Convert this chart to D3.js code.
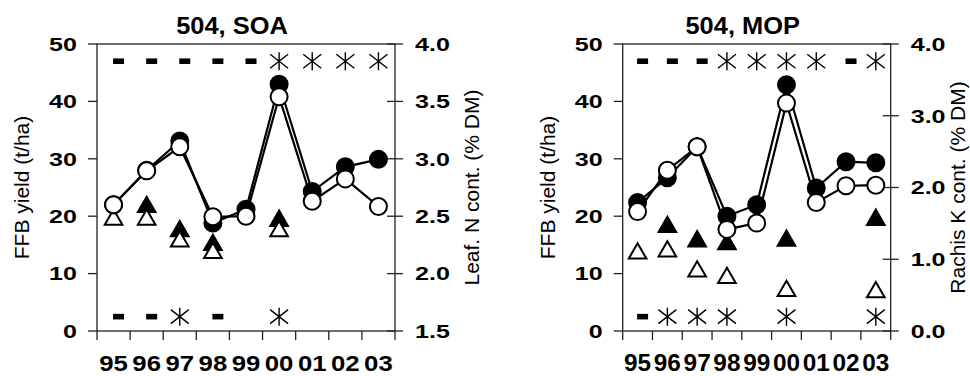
<!DOCTYPE html>
<html>
<head>
<meta charset="utf-8">
<script src="https://cdn.jsdelivr.net/npm/d3@7/dist/d3.min.js"></script>
<style>
  body { margin: 0; background: #fff; }
  svg { display: block; }
  text { font-family: "Liberation Sans", Arial, sans-serif; fill: #000; }
</style>
</head>
<body>
<svg id="chart" width="970" height="376"></svg>
<script>
// years on the x axis
const years = ["95", "96", "97", "98", "99", "00", "01", "02", "03"];

// 504, SOA : FFB yield (t/ha), left axis
const soaYieldFilled = [22, 28, 33.1, 18.8, 21.2, 43.0, 24.3, 28.6, 29.9];
const soaYieldOpen   = [22, 27.9, 32.1, 19.9, 20.0, 40.8, 22.6, 26.5, 21.7];
// leaf N content (% DM), right axis
const soaNFilled = [null, 2.58, 2.37, 2.25, null, 2.46, null, null, null];
const soaNOpen   = [2.47, 2.47, 2.28, 2.18, null, 2.37, null, null, null];
// significance rows ("-" = ns, "*" = significant)
const soaSigTop    = ["-", "-", "-", "-", "-", "*", "*", "*", "*"];
const soaSigBottom = ["-", "-", "*", "-", "", "*", "", "", ""];

// 504, MOP : FFB yield (t/ha), left axis
const mopYieldFilled = [22.4, 26.7, 32.1, 20.0, 22.0, 42.9, 24.9, 29.5, 29.3];
const mopYieldOpen   = [20.8, 28.0, 32.1, 17.7, 18.8, 39.7, 22.4, 25.3, 25.4];
// rachis K content (% DM), right axis
const mopKFilled = [null, 1.45, 1.25, 1.21, null, 1.26, null, null, 1.55];
const mopKOpen   = [1.08, 1.11, 0.83, 0.74, null, 0.56, null, null, 0.54];
const mopSigTop    = ["-", "-", "-", "*", "*", "*", "*", "-", "*"];
const mopSigBottom = ["-", "*", "*", "*", "", "*", "", "", "*"];

// levels (in yield units) of the two significance rows
const sigLevels = [47, 2.5];

const yieldTicks = [0, 10, 20, 30, 40, 50];

const svg = d3.select("#chart");

function panel(opt) {
  const top = 44, bottom = 331;
  const x = d3.scaleBand().domain(years).range([opt.x0, opt.x1]);
  const y = d3.scaleLinear().domain([0, 50]).range([bottom, top]);
  const y2 = d3.scaleLinear().domain(opt.rightDomain).range([bottom, top]);
  const g = svg.append("g");
  const cx = d => x(d) + x.bandwidth() / 2;

  // frame
  g.append("rect")
    .attr("x", opt.x0).attr("y", top)
    .attr("width", opt.x1 - opt.x0).attr("height", bottom - top)
    .attr("fill", "none").attr("stroke", "#222").attr("stroke-width", 1.3);

  // left axis ticks + labels
  g.selectAll(".lt").data(yieldTicks).join("line")
    .attr("x1", opt.x0 - 9).attr("x2", opt.x0)
    .attr("y1", d => y(d)).attr("y2", d => y(d))
    .attr("stroke", "#222").attr("stroke-width", 1.3);
  g.selectAll(".ll").data(yieldTicks).join("text")
    .attr("transform", d => `translate(${opt.x0 - 20},${y(d)}) scale(1.32,1)`)
    .attr("dy", "0.36em").attr("text-anchor", "end")
    .attr("font-size", 19).attr("font-weight", "bold")
    .text(d => d);

  // right axis ticks + labels
  g.selectAll(".rt").data(opt.rightTicks).join("line")
    .attr("x1", opt.x1 - 8).attr("x2", opt.x1 + 8)
    .attr("y1", d => y2(d)).attr("y2", d => y2(d))
    .attr("stroke", "#222").attr("stroke-width", 1.3);
  g.selectAll(".rl").data(opt.rightTicks).join("text")
    .attr("transform", d => `translate(${opt.x1 + 20},${y2(d)}) scale(1.32,1)`)
    .attr("dy", "0.36em").attr("text-anchor", "start")
    .attr("font-size", 19).attr("font-weight", "bold")
    .text(d => d3.format(".1f")(d));

  // x axis ticks at band edges
  const edges = years.map(d => x(d)).concat([opt.x1]);
  g.selectAll(".xt").data(edges).join("line")
    .attr("x1", d => d).attr("x2", d => d)
    .attr("y1", bottom).attr("y2", bottom + 9)
    .attr("stroke", "#222").attr("stroke-width", 1.3);
  g.selectAll(".xl").data(years).join("text")
    .attr("transform", d => `translate(${cx(d)},371) scale(${opt.xLabelScale},1)`)
    .attr("text-anchor", "middle")
    .attr("font-size", 23).attr("font-weight", "bold")
    .text(d => d);

  // title
  g.append("text")
    .attr("transform", `translate(${(opt.x0 + opt.x1) / 2 - 14},34) scale(1.06,1)`)
    .attr("text-anchor", "middle")
    .attr("font-size", 24).attr("font-weight", "bold")
    .text(opt.title);

  // axis titles
  g.append("text")
    .attr("transform", `translate(${opt.x0 - 68},${(top + bottom) / 2}) rotate(-90)`)
    .attr("text-anchor", "middle").attr("font-size", 21)
    .text("FFB yield (t/ha)");
  g.append("text")
    .attr("transform", `translate(${opt.x1 + opt.rightTitleGap},${(top + bottom) / 2}) rotate(-90)`)
    .attr("text-anchor", "middle").attr("font-size", 21)
    .text(opt.rightTitle);

  // significance rows
  const star = "M0,-9V9M-9,-7L9,7M-9,7L9,-7";
  [opt.sigTop, opt.sigBottom].forEach((row, i) => {
    const yy = y(sigLevels[i]);
    row.forEach((s, j) => {
      if (s === "-") {
        g.append("rect")
          .attr("x", cx(years[j]) + 5 - 5.5).attr("y", yy - 2.8)
          .attr("width", 11).attr("height", 5.6).attr("fill", "#000");
      } else if (s === "*") {
        g.append("path")
          .attr("transform", `translate(${cx(years[j])},${yy})`)
          .attr("d", star).attr("fill", "none")
          .attr("stroke", "#000").attr("stroke-width", 1.4);
      }
    });
  });

  // triangles (right axis)
  const tri = d3.symbol().type(d3.symbolTriangle).size(135);
  const triPts = (vals) => vals.map((v, i) => ({ yr: years[i], v })).filter(d => d.v != null);
  g.selectAll(".tf").data(triPts(opt.triFilled)).join("path")
    .attr("transform", d => `translate(${cx(d.yr)},${y2(d.v)})`)
    .attr("d", tri).attr("fill", "#000").attr("stroke", "#000").attr("stroke-width", 2);
  g.selectAll(".to").data(triPts(opt.triOpen)).join("path")
    .attr("transform", d => `translate(${cx(d.yr)},${y2(d.v)})`)
    .attr("d", tri).attr("fill", "#fff").attr("stroke", "#000").attr("stroke-width", 2);

  // yield lines
  const line = d3.line().x((d, i) => cx(years[i])).y(d => y(d));
  [opt.yieldFilled, opt.yieldOpen].forEach(vals => {
    g.append("path").attr("d", line(vals))
      .attr("fill", "none").attr("stroke", "#000").attr("stroke-width", 2.2);
  });
  g.selectAll(".cf").data(opt.yieldFilled).join("circle")
    .attr("cx", (d, i) => cx(years[i])).attr("cy", d => y(d)).attr("r", 8.5)
    .attr("fill", "#000").attr("stroke", "#000").attr("stroke-width", 2);
  g.selectAll(".co").data(opt.yieldOpen).join("circle")
    .attr("cx", (d, i) => cx(years[i])).attr("cy", d => y(d)).attr("r", 8.5)
    .attr("fill", "#fff").attr("stroke", "#000").attr("stroke-width", 2);
}

panel({
  x0: 97, x1: 395, title: "504, SOA", rightTitle: "Leaf. N cont. (% DM)",
  rightTitleGap: 84,
  rightDomain: [1.5, 4.0], rightTicks: [1.5, 2.0, 2.5, 3.0, 3.5, 4.0],
  xLabelScale: 1.12,
  yieldFilled: soaYieldFilled, yieldOpen: soaYieldOpen,
  triFilled: soaNFilled, triOpen: soaNOpen,
  sigTop: soaSigTop, sigBottom: soaSigBottom
});

panel({
  x0: 622.7, x1: 890.7, title: "504, MOP", rightTitle: "Rachis K cont. (% DM)",
  rightTitleGap: 74,
  rightDomain: [0, 4.0], rightTicks: [0, 1, 2, 3, 4],
  xLabelScale: 1.06,
  yieldFilled: mopYieldFilled, yieldOpen: mopYieldOpen,
  triFilled: mopKFilled, triOpen: mopKOpen,
  sigTop: mopSigTop, sigBottom: mopSigBottom
});
</script>
</body>
</html>
